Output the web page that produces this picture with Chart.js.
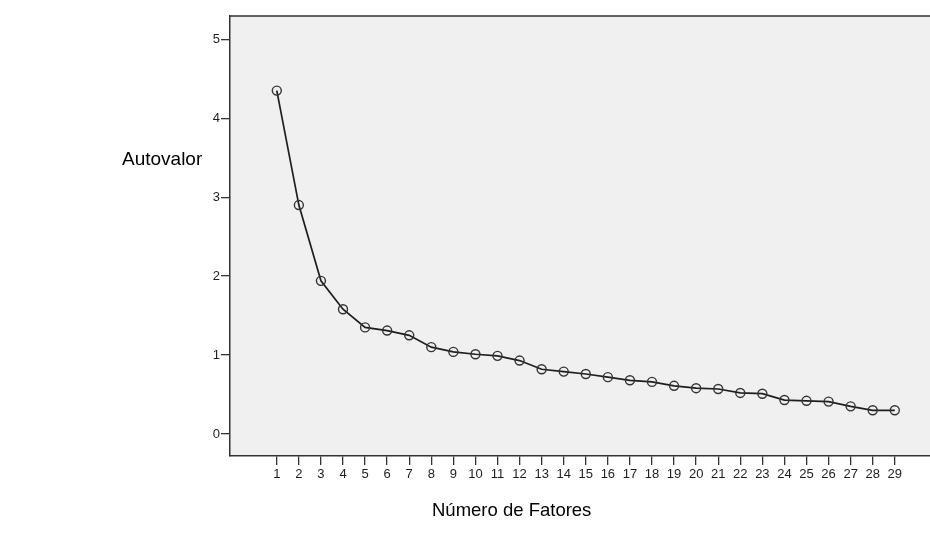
<!DOCTYPE html>
<html lang="pt">
<head>
<meta charset="utf-8">
<title>Gráfico de sedimentação</title>
<script src="https://cdn.jsdelivr.net/npm/chart.js@4.4.1/dist/chart.umd.min.js"></script>
<style>
  html, body { margin: 0; padding: 0; background: #fff; overflow: hidden; width: 930px; height: 545px; }
  canvas { display: block; }
</style>
</head>
<body>
<canvas id="scree" width="936" height="545"></canvas>
<script>
// ---------------------------------------------------------------------------
// Data
// ---------------------------------------------------------------------------
const fatores = [1, 2, 3, 4, 5, 6, 7, 8, 9, 10, 11, 12, 13, 14, 15, 16, 17, 18, 19, 20,
  21, 22, 23, 24, 25, 26, 27, 28, 29];
const autovalores = [4.35, 2.90, 1.94, 1.58, 1.35, 1.31, 1.25, 1.10, 1.04, 1.01, 0.99,
  0.93, 0.82, 0.79, 0.76, 0.72, 0.68, 0.66, 0.61, 0.58, 0.57, 0.52, 0.51, 0.43, 0.42,
  0.41, 0.35, 0.30, 0.30];
const yTicks = [0, 1, 2, 3, 4, 5];
const yTitle = "Autovalor";
const xTitle = "Número de Fatores";

const INK = "#1e1e1e";
const FRAME = "#333";
const FONT = "'Liberation Sans', Arial, sans-serif";

// plot background, top border and axis titles
const plotFrame = {
  id: "plotFrame",
  beforeDraw(chart) {
    const { ctx, chartArea: a } = chart;
    ctx.save();
    ctx.fillStyle = "#f0f0f0";
    ctx.fillRect(a.left, a.top, a.right - a.left, a.bottom - a.top);
    ctx.restore();
  },
  afterDraw(chart) {
    const { ctx, chartArea: a } = chart;
    ctx.save();
    ctx.strokeStyle = FRAME;
    ctx.lineWidth = 1.5;
    ctx.beginPath();
    ctx.moveTo(a.left, a.top);
    ctx.lineTo(a.right, a.top);
    ctx.stroke();

    ctx.fillStyle = "#000";
    ctx.textBaseline = "alphabetic";
    ctx.font = `19px ${FONT}`;
    ctx.fillText(yTitle, 122, 165);
    ctx.font = `18.5px ${FONT}`;
    ctx.fillText(xTitle, 432, 516);
    ctx.restore();
  },
};

new Chart(document.getElementById("scree"), {
  type: "line",
  data: {
    datasets: [
      {
        data: fatores.map((f, i) => ({ x: f, y: autovalores[i] })),
        borderColor: INK,
        borderWidth: 1.7,
        tension: 0,
        pointRadius: 4.5,
        pointBorderWidth: 1.4,
        pointBorderColor: FRAME,
        pointBackgroundColor: "rgba(0,0,0,0)",
      },
    ],
  },
  options: {
    responsive: false,
    animation: false,
    devicePixelRatio: 1,
    layout: { padding: { top: 16, right: 0, left: 0, bottom: 0 } },
    plugins: { legend: { display: false }, tooltip: { enabled: false } },
    scales: {
      x: {
        type: "linear",
        min: -1.12,
        max: 30.6,
        afterBuildTicks: (s) => { s.ticks = fatores.map((v) => ({ value: v })); },
        afterFit: (s) => { s.height = 89; },
        ticks: { autoSkip: false, maxRotation: 0, color: INK, padding: 2, font: { family: FONT, size: 13 } },
        grid: { drawOnChartArea: false, drawTicks: true, tickLength: 9, color: FRAME, lineWidth: 1.3 },
        border: { display: true, color: FRAME, width: 1.5 },
      },
      y: {
        min: -0.279,
        max: 5.295,
        afterBuildTicks: (s) => { s.ticks = yTicks.map((v) => ({ value: v })); },
        afterFit: (s) => { s.width = 230; },
        ticks: { color: INK, padding: 1, font: { family: FONT, size: 13 } },
        grid: { drawOnChartArea: false, drawTicks: true, tickLength: 9, color: FRAME, lineWidth: 1.3 },
        border: { display: true, color: FRAME, width: 1.5 },
      },
    },
  },
  plugins: [plotFrame],
});
</script>
</body>
</html>
